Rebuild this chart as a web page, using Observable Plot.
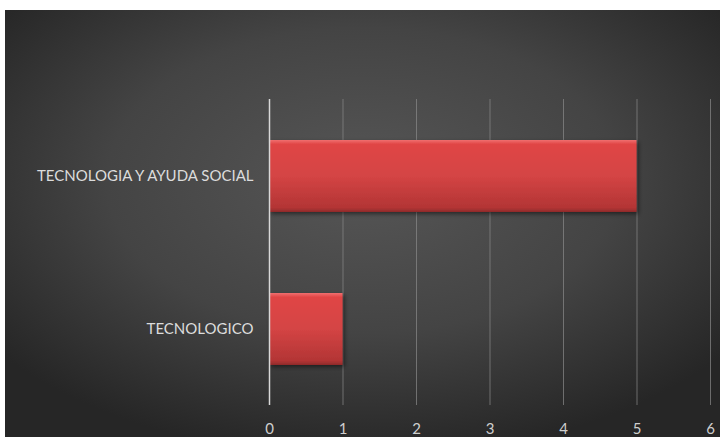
<!DOCTYPE html>
<html><head><meta charset="utf-8">
<script src="https://cdn.jsdelivr.net/npm/d3@7"></script>
<script src="https://cdn.jsdelivr.net/npm/@observablehq/plot@0.6"></script>
<style>
html,body{margin:0;padding:0;background:#fff;}
#wrap{padding:10px 0 0 5px;}
svg{display:block;}
</style></head>
<body><div id="wrap"></div>
<script>
const categories = ["TECNOLOGIA Y AYUDA SOCIAL", "TECNOLOGICO"];
const values = [5, 1];
const xTicks = [0, 1, 2, 3, 4, 5, 6];

const data = categories.map((c, i) => ({category: c, value: values[i]}));

const defs = () => {
  const g = d3.create("svg:defs");
  const lg = g.append("linearGradient").attr("id", "barGrad").attr("x1", 0).attr("x2", 0).attr("y1", 0).attr("y2", 1);
  lg.append("stop").attr("offset", "0%").attr("stop-color", "#f07070");
  lg.append("stop").attr("offset", "6%").attr("stop-color", "#e04444");
  lg.append("stop").attr("offset", "50%").attr("stop-color", "#d44444");
  lg.append("stop").attr("offset", "94%").attr("stop-color", "#b33535");
  lg.append("stop").attr("offset", "100%").attr("stop-color", "#8e2a2a");
  const f = g.append("filter").attr("id", "shadow").attr("x", "-5%").attr("y", "-10%").attr("width", "115%").attr("height", "130%");
  f.append("feDropShadow").attr("dx", 2).attr("dy", 2).attr("stdDeviation", 2).attr("flood-color", "#000").attr("flood-opacity", 0.5);
  const bg = g.append("radialGradient").attr("id", "bgGrad").attr("cx", "50%").attr("cy", "40%").attr("r", "65%");
  bg.append("stop").attr("offset", "0%").attr("stop-color", "#565656");
  bg.append("stop").attr("offset", "55%").attr("stop-color", "#444444");
  bg.append("stop").attr("offset", "100%").attr("stop-color", "#262626");
  return g.node();
};

const bgRect = (index, scales, values, dims) => {
  return d3.create("svg:rect").attr("x", 0).attr("y", 0).attr("width", dims.width).attr("height", dims.height).attr("fill", "url(#bgGrad)").node();
};

const chart = Plot.plot({
  width: 715,
  height: 427,
  marginLeft: 264,
  marginRight: 10,
  marginTop: 89,
  marginBottom: 32,
  style: {fontFamily: "Lato, 'Open Sans', sans-serif", background: "transparent", overflow: "visible"},
  x: {domain: [0, 6], ticks: xTicks, label: null},
  y: {domain: categories, paddingInner: 0.53, paddingOuter: 0.26, label: null},
  marks: [
    defs,
    bgRect,
    Plot.ruleX(xTicks.filter(d => d > 0), {stroke: "#8a8a8a", strokeWidth: 1, strokeOpacity: 0.7}),
    Plot.barX(data, {x: "value", y: "category", fill: "url(#barGrad)"}),
    Plot.ruleX([0], {stroke: "#d8d8d8", strokeWidth: 1.5}),
    Plot.axisX({ticks: xTicks, tickSize: 0, tickPadding: 18, fontSize: 15, color: "#cfcfcf", tickFormat: d => d}),
    Plot.axisY({tickSize: 0, tickPadding: 16, fontSize: 15, color: "#dcdcdc"})
  ]
});
d3.select(chart).selectAll("[aria-label='bar'] rect").attr("filter", "url(#shadow)");
document.getElementById("wrap").appendChild(chart);
</script></body></html>
